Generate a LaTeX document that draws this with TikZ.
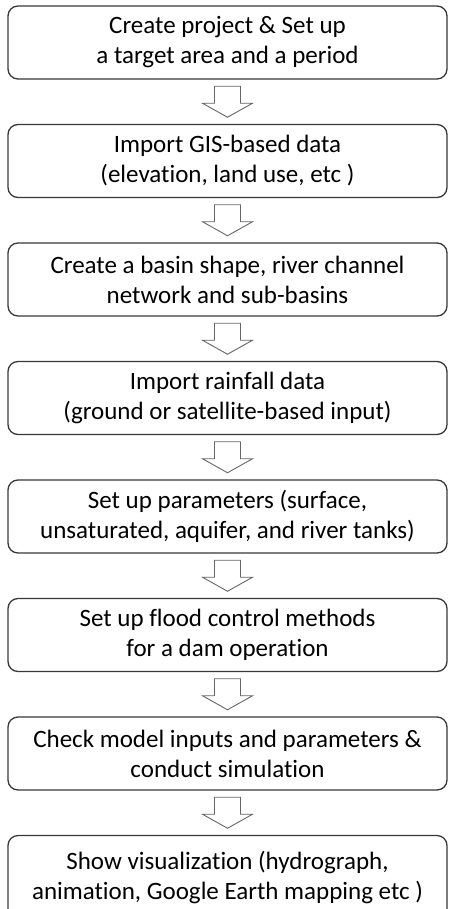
\documentclass[tikz,border=0pt]{standalone}
\usepackage{fontspec}
\setmainfont{Carlito}[Ligatures=NoCommon]
\usetikzlibrary{calc}
\tikzset{
  stepbox/.style={draw=black!78, line width=1.3pt, rounded corners=10pt, minimum width=439pt, minimum height=73pt, inner sep=0pt, align=center, font=\fontsize{25}{30}\selectfont, text=black},
  blockarrow/.style={draw=black!60, line width=0.9pt, fill=white, line join=miter}
}
\newcommand{\blockarr}[2]{%
  \coordinate (m#1#2) at ($(#1.south)!0.5!(#2.north)$);
  \draw[blockarrow] ($(m#1#2)+(-13pt,15.5pt)$) -- ++(26pt,0) -- ++(0,-17pt) -- ++(12pt,0) -- ++(-25pt,-14pt) -- ++(-25pt,14pt) -- ++(12pt,0) -- cycle;
}
\begin{document}
\begin{tikzpicture}[x=1pt,y=-1pt]
\clip (0,0) rectangle (449,909);
\fill[white] (0,0) rectangle (449,909);
\node[stepbox] (b1) at (227.5,42.5) {Create project \& Set up\\a target area and a period};
\node[stepbox] (b2) at (227.5,161) {Import GIS-based data\\(elevation, land use, etc )};
\node[stepbox] (b3) at (227.5,279.5) {Create a basin shape, river channel\\network and sub-basins};
\node[stepbox] (b4) at (227.5,398) {Import rainfall data\\(ground or satellite-based input)};
\node[stepbox] (b5) at (227.5,516.5) {Set up parameters (surface,\\unsaturated, aquifer, and river tanks)};
\node[stepbox] (b6) at (227.5,635) {Set up flood control methods\\for a dam operation};
\node[stepbox] (b7) at (227.5,753.5) {Check model inputs and parameters \&\\conduct simulation};
\node[stepbox, minimum height=84pt] (b8) at (227.5,877.5) {Show visualization (hydrograph,\\animation, Google Earth mapping etc )};
\blockarr{b1}{b2}
\blockarr{b2}{b3}
\blockarr{b3}{b4}
\blockarr{b4}{b5}
\blockarr{b5}{b6}
\blockarr{b6}{b7}
\blockarr{b7}{b8}
\end{tikzpicture}
\end{document}
